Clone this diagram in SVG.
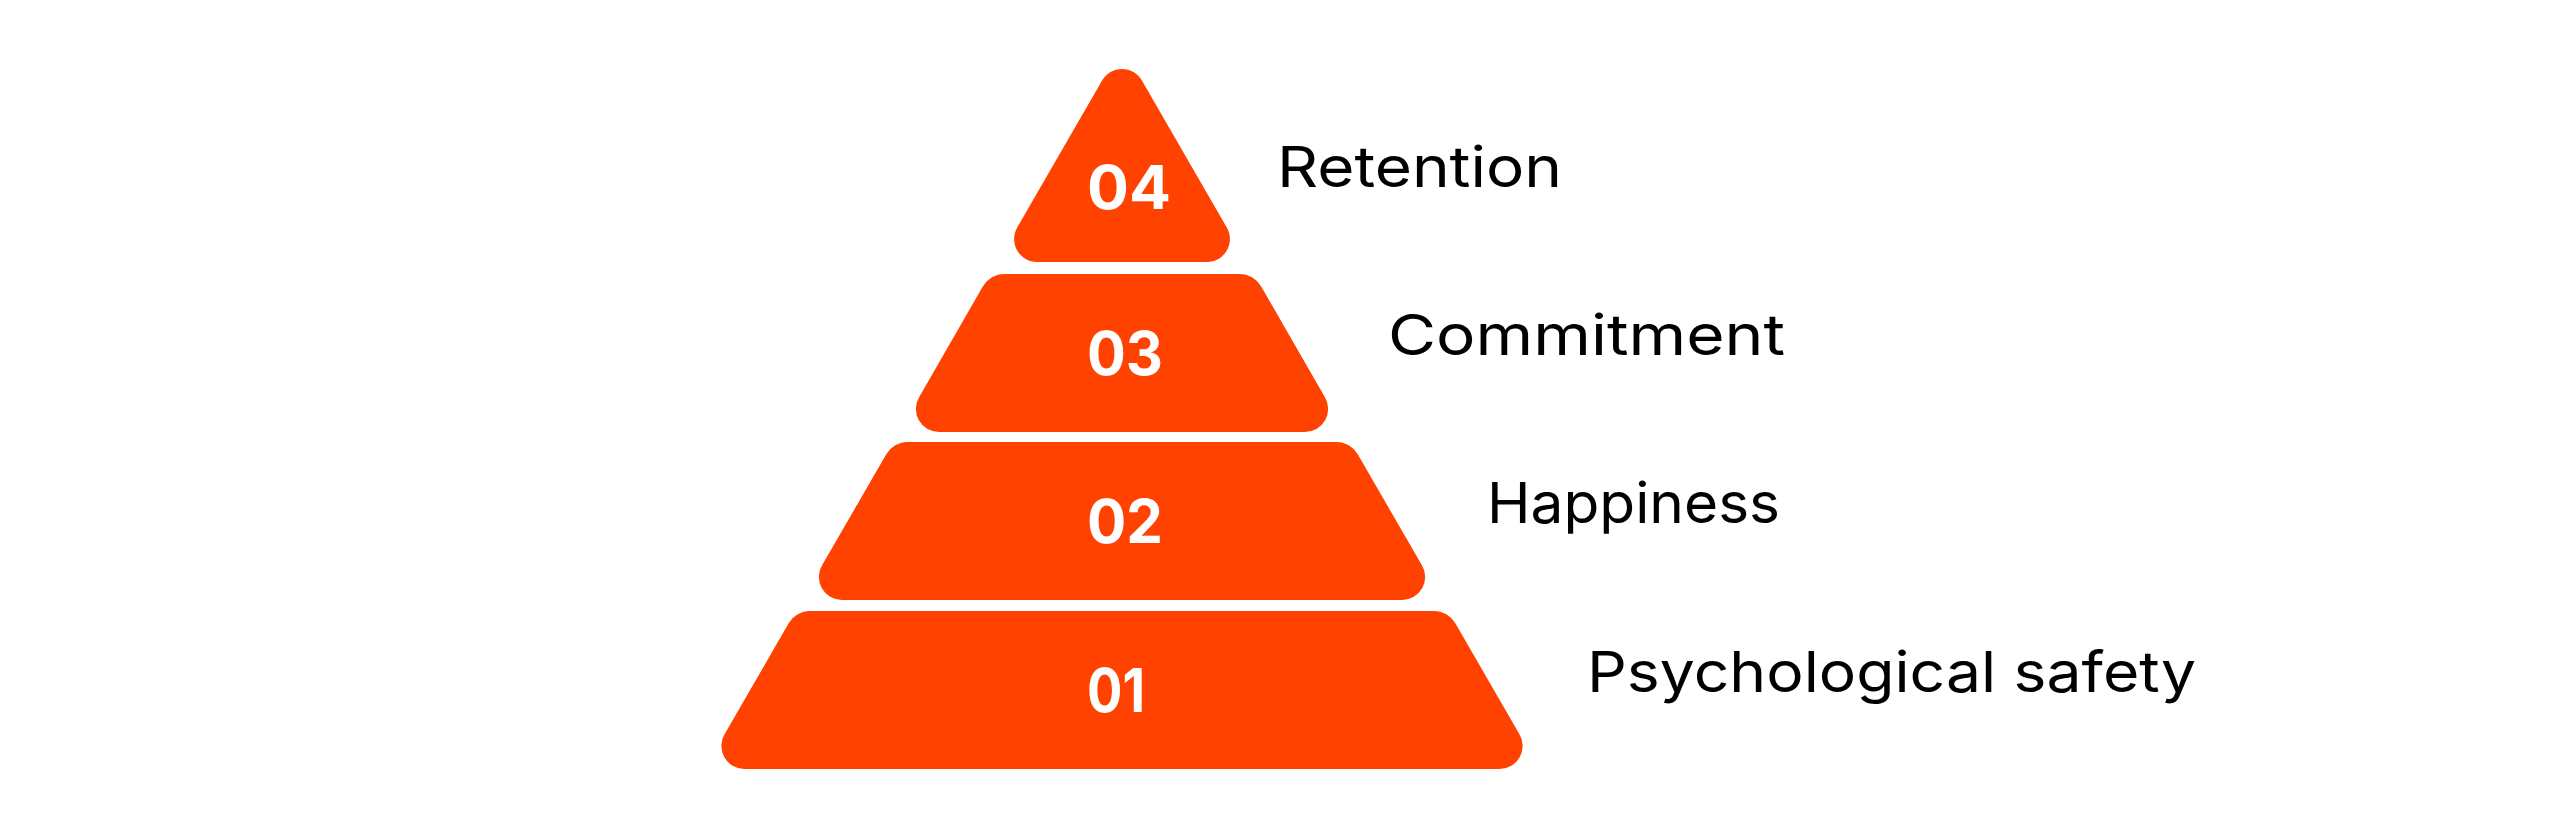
<svg xmlns="http://www.w3.org/2000/svg" width="2560" height="839" viewBox="0 0 2560 839">
<style>
.tier{fill:#FF4200}
.num{font-family:Inter,"Noto Sans","DejaVu Sans",sans-serif;font-weight:700;font-size:60px;fill:#FFFFFF}
.lbl{font-family:Inter,"Noto Sans","DejaVu Sans",sans-serif;font-weight:400;font-size:56px;fill:#000000}
</style>
<rect width="2560" height="839" fill="#FFFFFF"/>
<g id="tier-04">
<path class="tier" d="M1102.1,80.5 A23,23 0 0 1 1141.9,80.5 L1226.8,227.5 A23,23 0 0 1 1206.9,262 L1037.1,262 A23,23 0 0 1 1017.2,227.5 Z"/>
<text class="num" x="1087" y="209" textLength="84" lengthAdjust="spacingAndGlyphs">04</text>
<text class="lbl" x="1277" y="187" textLength="285" lengthAdjust="spacingAndGlyphs">Retention</text>
</g>
<g id="tier-03">
<path class="tier" d="M1004.5,274 L1239.5,274 A25,25 0 0 1 1261.2,286.5 L1324.5,396.6 A23,23 0 0 1 1305.1,432 L938.9,432 A23,23 0 0 1 919.5,396.6 L982.8,286.5 A25,25 0 0 1 1004.5,274 Z"/>
<text class="num" x="1087" y="375" textLength="76" lengthAdjust="spacingAndGlyphs">03</text>
<text class="lbl" x="1388" y="355" textLength="397" lengthAdjust="spacingAndGlyphs">Commitment</text>
</g>
<g id="tier-02">
<path class="tier" d="M907.8,442 L1336.2,442 A25,25 0 0 1 1357.9,454.5 L1421.5,564.6 A23,23 0 0 1 1402.1,600 L841.9,600 A23,23 0 0 1 822.5,564.6 L886.1,454.5 A25,25 0 0 1 907.8,442 Z"/>
<text class="num" x="1087" y="543" textLength="76" lengthAdjust="spacingAndGlyphs">02</text>
<text class="lbl" x="1487" y="523" textLength="293" lengthAdjust="spacingAndGlyphs">Happiness</text>
</g>
<g id="tier-01">
<path class="tier" d="M810.2,611 L1433.8,611 A25,25 0 0 1 1455.5,623.5 L1519.0,733.6 A23,23 0 0 1 1499.6,769 L744.4,769 A23,23 0 0 1 725.0,733.6 L788.5,623.5 A25,25 0 0 1 810.2,611 Z"/>
<text class="num" x="1087" y="712" textLength="58" lengthAdjust="spacingAndGlyphs">01</text>
<text class="lbl" x="1587" y="692" textLength="609" lengthAdjust="spacingAndGlyphs">Psychological safety</text>
</g>
<g id="connectors"></g>
</svg>
